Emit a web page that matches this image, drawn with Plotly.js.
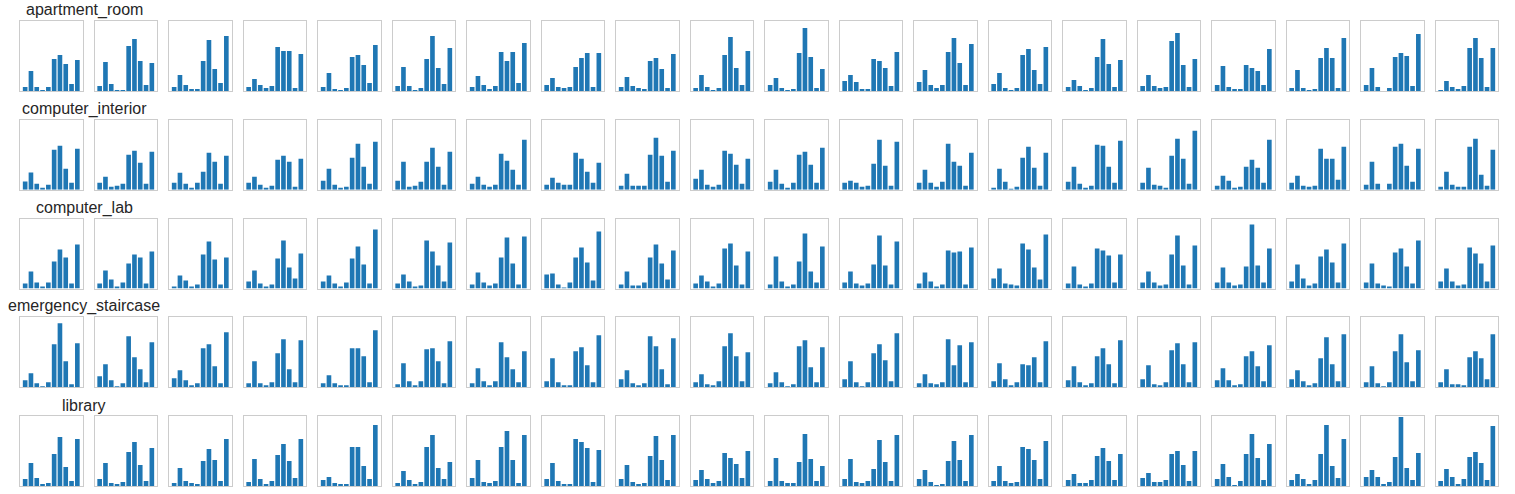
<!DOCTYPE html>
<html>
<head>
<meta charset="utf-8">
<script src="https://cdn.plot.ly/plotly-3.0.1.min.js"></script>
<style>body{margin:0;background:#fff}</style>
</head>
<body>
<div id="chart" style="width:1515px;height:494px"></div>
<script>
// scene classes, one row each; 20 samples per row, 10 bins per sample
var scenes = ['apartment_room', 'computer_interior', 'computer_lab', 'emergency_staircase', 'library'];
var bins = [0, 1, 2, 3, 4, 5, 6, 7, 8, 9];

var apartment_room = [
  [12, 60, 12, 3, 12, 96, 108, 81, 21, 93],
  [15, 87, 21, 3, 3, 135, 156, 90, 18, 84],
  [12, 48, 18, 6, 6, 90, 153, 66, 24, 165],
  [12, 36, 18, 9, 15, 132, 120, 120, 9, 111],
  [12, 54, 6, 3, 9, 102, 108, 78, 24, 138],
  [15, 72, 15, 3, 9, 96, 165, 69, 21, 129],
  [12, 45, 18, 6, 15, 117, 90, 117, 24, 144],
  [18, 39, 12, 9, 12, 72, 99, 114, 12, 114],
  [12, 42, 15, 9, 6, 90, 99, 66, 9, 111],
  [9, 48, 12, 3, 9, 108, 162, 69, 18, 120],
  [18, 39, 9, 3, 6, 114, 189, 102, 9, 66],
  [30, 48, 27, 6, 6, 96, 90, 69, 15, 117],
  [27, 63, 18, 9, 18, 117, 159, 84, 18, 141],
  [21, 54, 9, 3, 9, 108, 126, 63, 21, 132],
  [12, 33, 15, 3, 9, 102, 156, 81, 12, 93],
  [15, 48, 15, 9, 12, 150, 174, 78, 12, 96],
  [18, 75, 12, 6, 6, 78, 69, 60, 18, 126],
  [9, 63, 9, 3, 6, 99, 129, 99, 9, 159],
  [18, 69, 12, 0, 9, 102, 114, 105, 15, 171],
  [3, 30, 12, 6, 15, 129, 159, 99, 12, 129]
];
var computer_interior = [
  [25, 52, 18, 6, 15, 120, 132, 63, 21, 123],
  [21, 39, 9, 12, 18, 105, 117, 81, 18, 114],
  [21, 51, 18, 6, 21, 54, 111, 84, 18, 102],
  [21, 39, 15, 6, 12, 90, 102, 84, 9, 93],
  [27, 63, 15, 6, 9, 96, 138, 69, 18, 144],
  [27, 84, 9, 12, 24, 84, 126, 69, 15, 114],
  [18, 39, 15, 9, 15, 108, 87, 60, 15, 150],
  [15, 36, 21, 15, 15, 111, 93, 54, 21, 81],
  [12, 48, 12, 12, 12, 105, 156, 102, 24, 117],
  [33, 60, 15, 9, 15, 117, 108, 75, 18, 93],
  [24, 60, 18, 6, 21, 105, 114, 75, 21, 126],
  [21, 27, 21, 9, 12, 78, 150, 72, 12, 144],
  [21, 60, 21, 9, 24, 138, 84, 72, 12, 111],
  [6, 63, 24, 3, 9, 96, 129, 66, 12, 111],
  [24, 69, 18, 6, 12, 135, 132, 69, 21, 147],
  [21, 66, 15, 12, 6, 102, 153, 93, 18, 177],
  [12, 42, 27, 6, 9, 69, 90, 66, 21, 150],
  [21, 42, 12, 9, 12, 123, 93, 93, 30, 129],
  [15, 84, 18, 0, 18, 129, 138, 72, 24, 123],
  [9, 54, 15, 9, 9, 129, 153, 45, 12, 120]
];
var computer_lab = [
  [15, 51, 18, 6, 18, 81, 117, 93, 15, 132],
  [15, 54, 27, 6, 18, 75, 102, 93, 15, 111],
  [6, 39, 24, 6, 12, 102, 141, 87, 12, 93],
  [21, 54, 15, 6, 12, 90, 144, 63, 30, 105],
  [21, 39, 15, 6, 18, 90, 126, 72, 15, 177],
  [15, 42, 21, 6, 9, 144, 111, 69, 21, 138],
  [12, 48, 18, 9, 15, 93, 153, 75, 12, 156],
  [42, 45, 12, 3, 18, 93, 123, 78, 24, 171],
  [12, 51, 9, 9, 18, 93, 132, 75, 27, 114],
  [15, 39, 21, 6, 15, 120, 135, 69, 12, 111],
  [12, 96, 21, 6, 12, 81, 165, 51, 18, 126],
  [18, 51, 15, 9, 15, 72, 159, 69, 12, 141],
  [15, 48, 21, 6, 12, 114, 108, 111, 12, 123],
  [30, 60, 15, 12, 9, 135, 117, 63, 27, 162],
  [15, 66, 12, 6, 15, 120, 114, 99, 18, 102],
  [18, 51, 18, 9, 12, 102, 159, 69, 12, 129],
  [18, 63, 18, 9, 12, 66, 192, 69, 18, 120],
  [21, 72, 30, 9, 15, 96, 117, 78, 18, 135],
  [18, 75, 15, 9, 6, 108, 120, 66, 15, 144],
  [21, 60, 21, 9, 12, 123, 105, 75, 21, 129]
];
var emergency_staircase = [
  [21, 42, 12, 3, 15, 129, 192, 78, 9, 132],
  [33, 69, 21, 3, 12, 153, 90, 54, 15, 135],
  [27, 51, 21, 6, 12, 117, 129, 63, 12, 165],
  [12, 78, 12, 6, 15, 102, 144, 54, 15, 141],
  [12, 36, 12, 6, 6, 117, 117, 93, 15, 171],
  [9, 72, 18, 6, 18, 114, 117, 78, 12, 138],
  [12, 57, 18, 6, 18, 135, 90, 54, 15, 108],
  [18, 87, 15, 6, 6, 108, 120, 66, 15, 156],
  [24, 51, 12, 6, 12, 153, 123, 54, 9, 147],
  [15, 39, 9, 6, 18, 123, 162, 93, 18, 105],
  [12, 45, 15, 3, 9, 123, 141, 60, 15, 120],
  [24, 78, 15, 3, 15, 102, 129, 81, 18, 162],
  [12, 39, 12, 9, 15, 144, 66, 126, 15, 135],
  [18, 72, 24, 6, 15, 69, 66, 90, 15, 138],
  [21, 63, 15, 6, 12, 93, 117, 69, 12, 141],
  [24, 66, 9, 6, 15, 111, 132, 69, 15, 135],
  [21, 57, 21, 6, 9, 93, 108, 63, 18, 126],
  [24, 51, 18, 6, 12, 87, 150, 69, 18, 159],
  [15, 63, 12, 3, 15, 108, 159, 75, 18, 111],
  [15, 54, 9, 9, 6, 90, 108, 87, 24, 159]
];
var library = [
  [21, 69, 24, 6, 9, 96, 147, 57, 15, 141],
  [21, 69, 9, 6, 12, 102, 132, 63, 15, 114],
  [9, 54, 15, 9, 6, 75, 111, 78, 15, 141],
  [12, 81, 21, 6, 15, 93, 126, 75, 24, 141],
  [18, 27, 9, 6, 6, 117, 117, 60, 21, 183],
  [9, 45, 18, 6, 12, 117, 153, 54, 21, 72],
  [24, 78, 12, 9, 15, 117, 165, 78, 9, 153],
  [21, 69, 15, 6, 6, 141, 132, 114, 12, 108],
  [21, 63, 12, 6, 9, 90, 150, 78, 18, 153],
  [18, 48, 21, 9, 15, 99, 84, 66, 24, 105],
  [15, 84, 15, 9, 9, 72, 156, 81, 15, 60],
  [21, 81, 12, 9, 15, 51, 138, 72, 15, 153],
  [21, 48, 12, 3, 6, 75, 135, 78, 15, 153],
  [15, 60, 15, 9, 12, 117, 111, 78, 21, 135],
  [18, 36, 9, 9, 18, 90, 114, 75, 18, 96],
  [24, 39, 12, 12, 18, 96, 105, 63, 15, 105],
  [21, 66, 27, 3, 15, 96, 156, 84, 18, 126],
  [18, 36, 21, 6, 18, 96, 183, 60, 24, 141],
  [27, 48, 27, 6, 12, 87, 207, 54, 18, 99],
  [15, 51, 27, 6, 21, 87, 102, 69, 18, 180]
];

var rows = [apartment_room, computer_interior, computer_lab, emergency_staircase, library];

function drawGrid() {
  var W = 1515, H = 494;
  var left0 = 20, colStep = 74.5, boxW = 62.5;
  var top0 = 21, rowStep = 98.75, boxH = 70;

  var data = [];
  var layout = {
    width: W, height: H,
    margin: {l: 0, r: 0, t: 0, b: 0},
    paper_bgcolor: 'white',
    plot_bgcolor: 'white',
    showlegend: false,
    bargap: 0.2,
    annotations: []
  };

  var n = 0;
  for (var r = 0; r < rows.length; r++) {
    var rowTop = top0 + r * rowStep;
    for (var c = 0; c < rows[r].length; c++) {
      n++;
      var colLeft = left0 + c * colStep;
      var sfx = n === 1 ? '' : n;
      data.push({
        type: 'bar',
        x: bins,
        y: rows[r][c],
        xaxis: 'x' + sfx,
        yaxis: 'y' + sfx,
        marker: {color: '#1f77b4'},
        hoverinfo: 'skip'
      });
      var common = {
        showline: true, mirror: true, linecolor: '#cccccc', linewidth: 1,
        showgrid: false, zeroline: false, showticklabels: false, ticks: '',
        fixedrange: true
      };
      layout['xaxis' + sfx] = Object.assign({}, common, {
        domain: [colLeft / W, (colLeft + boxW) / W],
        range: [-0.89, 9.89],
        anchor: 'y' + sfx
      });
      layout['yaxis' + sfx] = Object.assign({}, common, {
        domain: [1 - (rowTop + boxH) / H, 1 - rowTop / H],
        range: [0, 210],
        anchor: 'x' + sfx
      });
    }
    layout.annotations.push({
      text: scenes[r],
      xref: 'paper', yref: 'paper',
      x: 84 / W, y: 1 - (rowTop - 11) / H,
      xanchor: 'center', yanchor: 'middle',
      showarrow: false,
      font: {family: 'Liberation Sans, Arial, sans-serif', size: 16, color: '#262626'}
    });
  }

  Plotly.newPlot('chart', data, layout, {displayModeBar: false, staticPlot: true});
}
drawGrid();
</script>
</body>
</html>
